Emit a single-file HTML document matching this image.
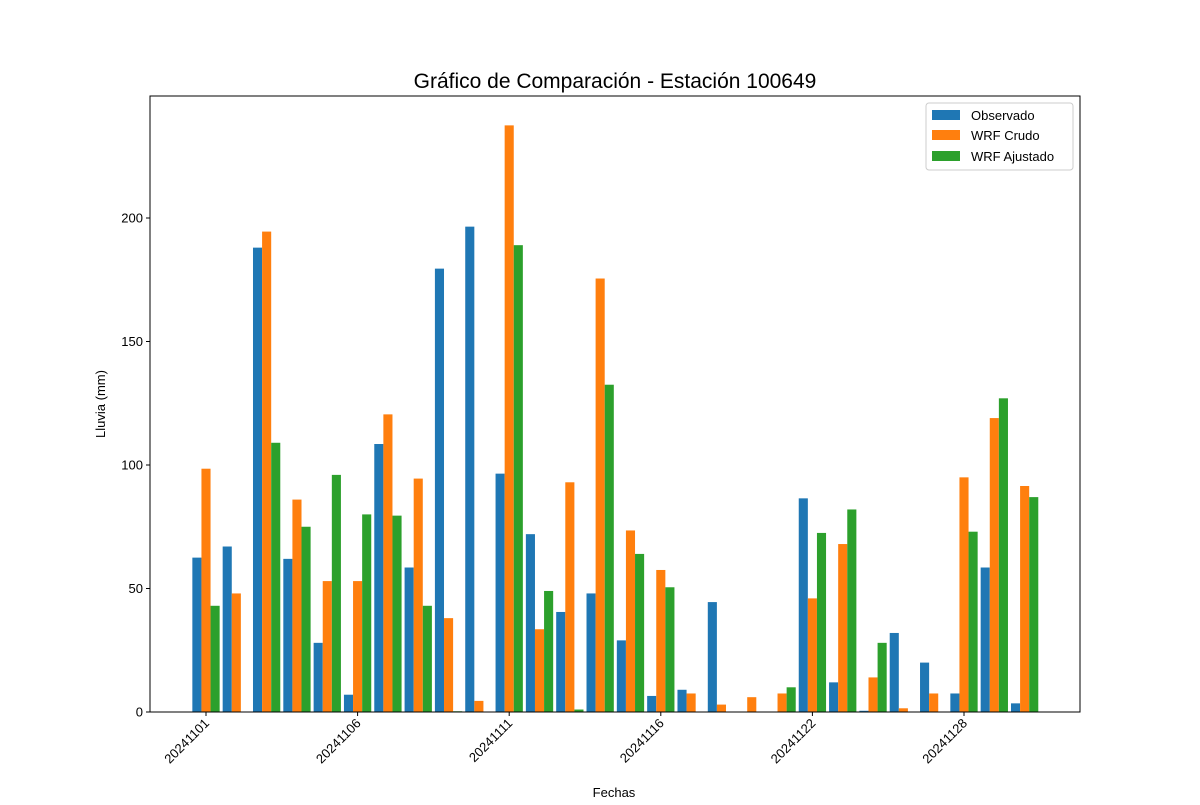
<!DOCTYPE html>
<html><head><meta charset="utf-8"><style>
body{margin:0;background:#fff}
svg{font-family:"Liberation Sans","DejaVu Sans",sans-serif}
</style></head><body>
<svg id="chart" width="1200" height="800">
<text x="615" y="88" font-size="21" text-anchor="middle">Gráfico de Comparación - Estación 100649</text>
<text x="614" y="797" font-size="13" text-anchor="middle">Fechas</text>
<text transform="translate(105,404) rotate(-90)" font-size="13" text-anchor="middle">Lluvia (mm)</text>
<g id="bars"></g><g id="axes"></g>
<g>
<rect x="926" y="103" width="147" height="67" fill="#fff" stroke="#ccc" rx="3"/>
<rect x="932" y="110" width="28" height="10" fill="#1f77b4"/>
<text x="971" y="120" font-size="13">Observado</text>
<rect x="932" y="130" width="28" height="10" fill="#ff7f0e"/>
<text x="971" y="140" font-size="13">WRF Crudo</text>
<rect x="932" y="151" width="28" height="10" fill="#2ca02c"/>
<text x="971" y="161" font-size="13">WRF Ajustado</text>
</g>
</svg>
<script>
const categories=["20241101","20241102","20241103","20241104","20241105","20241106","20241107","20241108","20241109","20241110","20241111","20241112","20241113","20241114","20241115","20241116","20241117","20241118","20241120","20241121","20241122","20241123","20241124","20241125","20241127","20241128","20241129","20241130"];
const observado=[62.5,67,188,62,28,7,108.5,58.5,179.5,196.5,96.5,72,40.5,48,29,6.5,9,44.5,0,0,86.5,12,0.5,32,20,7.5,58.5,3.5];
const wrfCrudo=[98.5,48,194.5,86,53,53,120.5,94.5,38,4.5,237.5,33.5,93,175.5,73.5,57.5,7.5,3,6,7.5,46,68,14,1.5,7.5,95,119,91.5];
const wrfAjustado=[43,0,109,75,96,80,79.5,43,0.3,0,189,49,1,132.5,64,50.5,0,0,0,10,72.5,82,28,0,0,73,127,87];
const yTicks=[0,50,100,150,200];
const L=150,R=1080,T=96,B=712;
const x=i=>206+30.32*i;
const y=v=>B-v*(B-218)/200;
const NS="http://www.w3.org/2000/svg";
const bars=document.getElementById('bars'),axes=document.getElementById('axes');
const bw=9.1;
const series=[[observado,"#1f77b4","observado",-1],[wrfCrudo,"#ff7f0e","wrf-crudo",0],[wrfAjustado,"#2ca02c","wrf-ajustado",1]];
series.forEach(([d,c,n,o])=>{d.forEach((v,i)=>{
 const r=document.createElementNS(NS,'rect');
 r.setAttribute('x',x(i)+o*bw-bw/2);r.setAttribute('width',bw);
 r.setAttribute('y',y(v));r.setAttribute('height',B-y(v));r.setAttribute('fill',c);
 
 
 bars.appendChild(r);});});
const frame=document.createElementNS(NS,'rect');
frame.setAttribute('x',L);frame.setAttribute('y',T);frame.setAttribute('width',R-L);frame.setAttribute('height',B-T);
frame.setAttribute('fill','none');frame.setAttribute('stroke','#000');


axes.appendChild(frame);
yTicks.forEach(t=>{
 const l=document.createElementNS(NS,'line');
 l.setAttribute('x1',L-4);l.setAttribute('x2',L);l.setAttribute('y1',y(t));l.setAttribute('y2',y(t));l.setAttribute('stroke','#000');
 
 
 axes.appendChild(l);
 const tx=document.createElementNS(NS,'text');
 tx.setAttribute('x',L-7);tx.setAttribute('y',y(t)+4.5);tx.setAttribute('text-anchor','end');tx.setAttribute('font-size','13');
 tx.textContent=t;
 
 
 axes.appendChild(tx);});
categories.forEach((c,i)=>{ if(i%5) return;
 const l=document.createElementNS(NS,'line');
 l.setAttribute('x1',x(i));l.setAttribute('x2',x(i));l.setAttribute('y1',B);l.setAttribute('y2',B+4);l.setAttribute('stroke','#000');
 
 
 axes.appendChild(l);
 const tx=document.createElementNS(NS,'text');
 tx.setAttribute('transform','translate('+(x(i)+4)+','+(B+12)+') rotate(-45)');
 tx.setAttribute('text-anchor','end');tx.setAttribute('font-size','13');
 tx.textContent=c;
 
 
 axes.appendChild(tx);});
</script>
</body></html>
